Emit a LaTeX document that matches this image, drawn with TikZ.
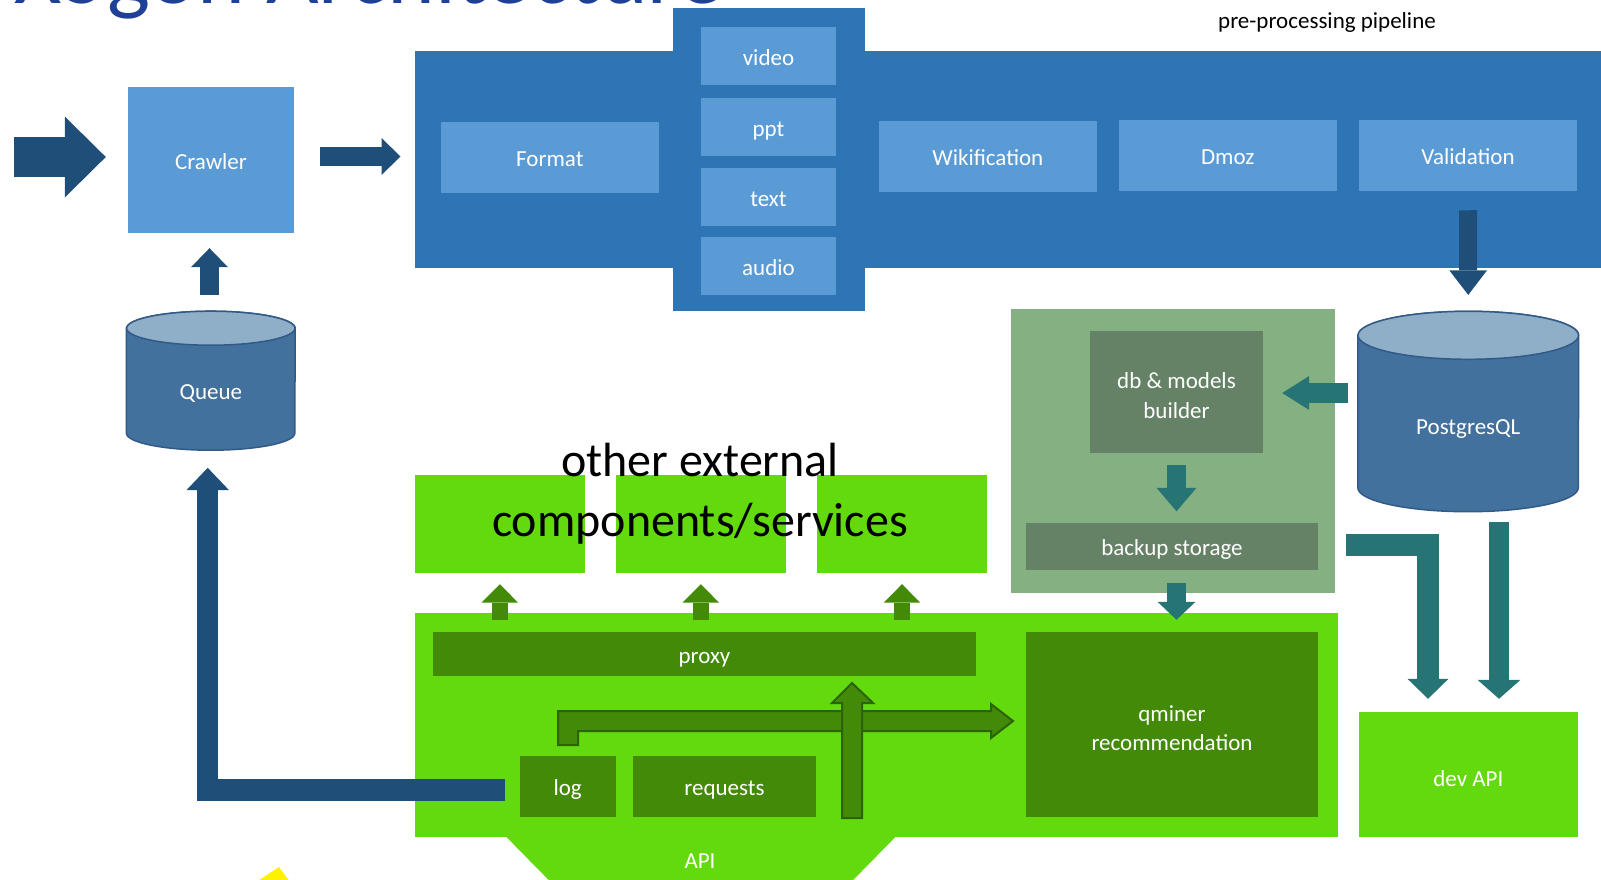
\documentclass[tikz,border=0pt]{standalone}
\usepackage{fontspec}
\setmainfont{Carlito}
\usetikzlibrary{arrows.meta,calc,positioning}
\definecolor{pipeblue}{RGB}{46,117,182}
\definecolor{boxblue}{RGB}{91,155,213}
\definecolor{arrowblue}{RGB}{31,78,121}
\definecolor{dbblue}{RGB}{65,113,156}
\definecolor{dbtop}{RGB}{143,174,199}
\definecolor{dbline}{RGB}{50,90,135}
\definecolor{sage}{RGB}{132,176,130}
\definecolor{sagedark}{RGB}{102,130,102}
\definecolor{arrowteal}{RGB}{38,116,116}
\definecolor{apigreen}{RGB}{99,218,13}
\definecolor{proxygreen}{RGB}{66,138,8}
\definecolor{greenline}{RGB}{44,98,10}
\definecolor{titleblue}{RGB}{30,64,150}
\newcommand{\boxfont}{\fontsize{23}{29.6}\selectfont}
\newcommand{\bigfont}{\fontsize{48}{60}\selectfont}
\newcommand{\titlefont}{\fontsize{91}{100}\selectfont}
\tikzstyle{oneline}=[text height=23pt,text depth=4.1pt]
\tikzstyle{lightbox}=[rectangle,fill=boxblue,text=white,font=\boxfont,inner sep=0pt,oneline]
\tikzstyle{sagebox}=[rectangle,fill=sagedark,text=white,font=\boxfont,align=center,inner sep=0pt]
\tikzstyle{greenbox}=[rectangle,fill=proxygreen,text=white,font=\boxfont,align=center,inner sep=0pt]
\tikzstyle{limebox}=[rectangle,fill=apigreen,inner sep=0pt]
\tikzstyle{dbshape}=[rectangle,inner sep=0pt]
\tikzstyle{dblabel}=[text=white,font=\boxfont,inner sep=0pt]
\tikzstyle{blueflow}=[color=arrowblue]
\tikzstyle{tealflow}=[color=arrowteal]
\tikzstyle{greenflow}=[color=proxygreen]
\tikzstyle{outlined}=[fill=proxygreen,draw=greenline,line width=2pt]
\begin{document}
\begin{tikzpicture}[x=1pt,y=-1pt]
\useasboundingbox (0,0) rectangle (1601,879);
\clip (0,0) rectangle (1601,879);

    % Title, cut by the top border
    \node[anchor=base west,font=\titlefont,text=titleblue,inner sep=0pt] (title) at (14,3) {X5gon Architecture};

    % The pre-processing pipeline
    \node[font=\boxfont,inner sep=0pt] (pipelabel) at (1327,22) {pre-processing pipeline};
    \node[fill=pipeblue,minimum width=1195pt,minimum height=216.5pt,inner sep=0pt,anchor=north west] (pipeline) at (414.5,51) {};
    \node[fill=pipeblue,minimum width=192pt,minimum height=303pt,inner sep=0pt,anchor=north west] (media) at (673,8) {};
    \foreach \pos/\name/\label in {{(549.8,157.3)/Format/Format}, {(987.8,156.3)/Wiki/Wikification}, {(1227.8,155.3)/Dmoz/Dmoz}, {(1468,155.3)/Validation/Validation}}
        \node[lightbox,minimum width=217.5pt,minimum height=71.5pt] (\name) at \pos {\label};
    \foreach \y/\name/\label in {55.8/video/video, 127/ppt/ppt, 196.6/mtext/text, 266/audio/audio}
        \node[lightbox,minimum width=135pt,minimum height=58pt] (\name) at (768.5,\y) {\label};

    % Crawler and queue
    \node[lightbox,minimum width=166pt,minimum height=146pt] (Crawler) at (211,160) {Crawler};
    \node[dbshape,minimum width=168.4pt,minimum height=138.6pt] (Queue) at (210.8,380.7) {};
    \node[dbshape,minimum width=220.5pt,minimum height=200pt] (PG) at (1468.25,411.5) {};
    \foreach \name/\rx/\ry in {Queue/84.2/17, PG/110.25/24}{
        \filldraw[fill=dbblue,draw=dbline,line width=1.5pt] ($(\name.north west)+(0,\ry)$) -- ($(\name.south west)+(0,-\ry)$) arc[start angle=180,end angle=0,x radius=\rx,y radius=\ry] -- ($(\name.north east)+(0,\ry)$) arc[start angle=0,end angle=-180,x radius=\rx,y radius=\ry] -- cycle;
        \filldraw[fill=dbtop,draw=dbline,line width=1.5pt] ($(\name.north)+(0,\ry)$) ellipse[x radius=\rx,y radius=\ry];
    }
    \node[dblabel] (QueueLabel) at ($(Queue.center)+(0,13)$) {Queue};
    \node[dblabel] (PGLabel) at ($(PG.center)+(0,18)$) {PostgresQL};

    % Storage block
    \node[fill=sage,minimum width=323.5pt,minimum height=284pt,inner sep=0pt,anchor=north west] (storage) at (1011,309) {};
    \node[sagebox,minimum width=173pt,minimum height=122pt] (builder) at (1176.5,392) {\rule{0pt}{23pt}db \& models\\builder};
    \node[sagebox,oneline,minimum width=292pt,minimum height=47pt] (backup) at (1172,546.5) {backup storage};

    % External components
    \foreach \x/\name in {499.8/ext1, 700.8/ext2, 902/ext3}
        \node[limebox,minimum width=170.5pt,minimum height=98pt] (\name) at (\x,523.8) {};
    \node[font=\bigfont,align=center,inner sep=0pt] (extlabel) at (700,494) {other external\\components/services};

    % Services and API
    \node[limebox,minimum width=923pt,minimum height=224.4pt,anchor=north west] (services) at (414.5,612.6) {};
    \fill[apigreen] (505.4,836) -- (896.4,836) -- (836.4,897) -- (565.4,897) -- cycle;
    \node[text=white,font=\boxfont,inner sep=0pt] (API) at (700,861) {API};
    \node[greenbox,oneline,minimum width=543pt,minimum height=44pt] (proxy) at (704.5,654) {proxy};
    \node[greenbox,minimum width=292pt,minimum height=185pt] (qminer) at (1172,724.5) {\rule{0pt}{23pt}qminer\\recommendation};
    \node[greenbox,oneline,minimum width=96pt,minimum height=61.5pt] (log) at (567.7,786.3) {log};
    \node[greenbox,oneline,minimum width=183pt,minimum height=61.5pt] (requests) at (724.5,786.3) {requests};
    \node[limebox,oneline,text height=29pt,text=white,font=\boxfont,minimum width=218.5pt,minimum height=125.4pt] (devAPI) at (1468.3,774.3) {dev API};

    % Blue arrows
    \coordinate (entry) at (14,157);
    \coordinate (cp) at ([shift={(26pt,3.5pt)}]Crawler.east);
    \draw[blueflow,line width=40.3pt,-{Triangle[length=41pt,width=81pt,line width=0pt]}] (entry) -- ([shift={(-22pt,3pt)}]Crawler.west);
    \draw[blueflow,line width=19pt,-{Triangle[length=19pt,width=37pt,line width=0pt]}] (cp) -- ($(pipeline.west |- cp)+(-14,0)$);
    \draw[blueflow,line width=19pt,-{Triangle[length=19pt,width=37pt,line width=0pt]}] ([shift={(-1.3pt,16.4pt)}]Queue.north) -- ([shift={(-1.5pt,-15pt)}]Crawler.south);
    \draw[blueflow,line width=21.5pt,-{Triangle[length=22.4pt,width=42.7pt,line width=0pt]}] ([shift={(-14.3pt,-3.5pt)}]log.west) -| ([shift={(-3.1pt,-17.6pt)}]Queue.south);
    \draw[blueflow,line width=18pt,-{Triangle[length=24.5pt,width=37.6pt,line width=0pt]}] ([yshift=-19pt]Validation.south) -- ([yshift=16.4pt]PG.north);

    % Teal arrows
    \draw[tealflow,line width=20pt,-{Triangle[length=27pt,width=34pt,line width=0pt]}] ([shift={(-10pt,18.5pt)}]PG.west) -- ([shift={(19pt,-1pt)}]builder.east);
    \draw[tealflow,line width=19pt,-{Triangle[length=23.5pt,width=40pt,line width=0pt]}] ([yshift=-11.5pt]builder.south) -- ([shift={(0pt,11.5pt)}]builder.south |- backup.north);
    \draw[tealflow,line width=19pt,-{Triangle[length=18pt,width=38pt,line width=0pt]}] ([shift={(4.5pt,-13pt)}]backup.south) -- ([shift={(4.5pt,12pt)}]qminer.north);
    \draw[tealflow,line width=22.5pt,-{Triangle[length=20pt,width=41pt,line width=0pt]}] ([shift={(11.5pt,-94pt)}]storage.east) -| ([shift={(-40.3pt,12.6pt)}]devAPI.north);
    \draw[tealflow,line width=20pt,-{Triangle[length=19pt,width=43pt,line width=0pt]}] ([shift={(30.75pt,-10.5pt)}]PG.south) -- ([shift={(30.7pt,12.6pt)}]devAPI.north);

    % Green arrows
    \foreach \name in {ext1, ext2, ext3}
        \draw[greenflow,line width=16.5pt,-{Triangle[length=18.5pt,width=36.7pt,line width=0pt]}] ([yshift=-47.2pt]\name.south) -- ([yshift=-11.2pt]\name.south);
    \filldraw[outlined] (558,745) -- (558,711) -- (991,711) -- (991,704) -- (1013,721) -- (991,738) -- (991,731) -- (578,731) -- (578,745) -- cycle;
    \filldraw[outlined] (842,818) -- (842,703) -- (832,703) -- (852,683) -- (873,703) -- (862,703) -- (862,818) -- cycle;

    % Corner of a yellow shape
    \fill[yellow] (256,882) -- (279,867) -- (290,882) -- cycle;

\end{tikzpicture}
\end{document}
